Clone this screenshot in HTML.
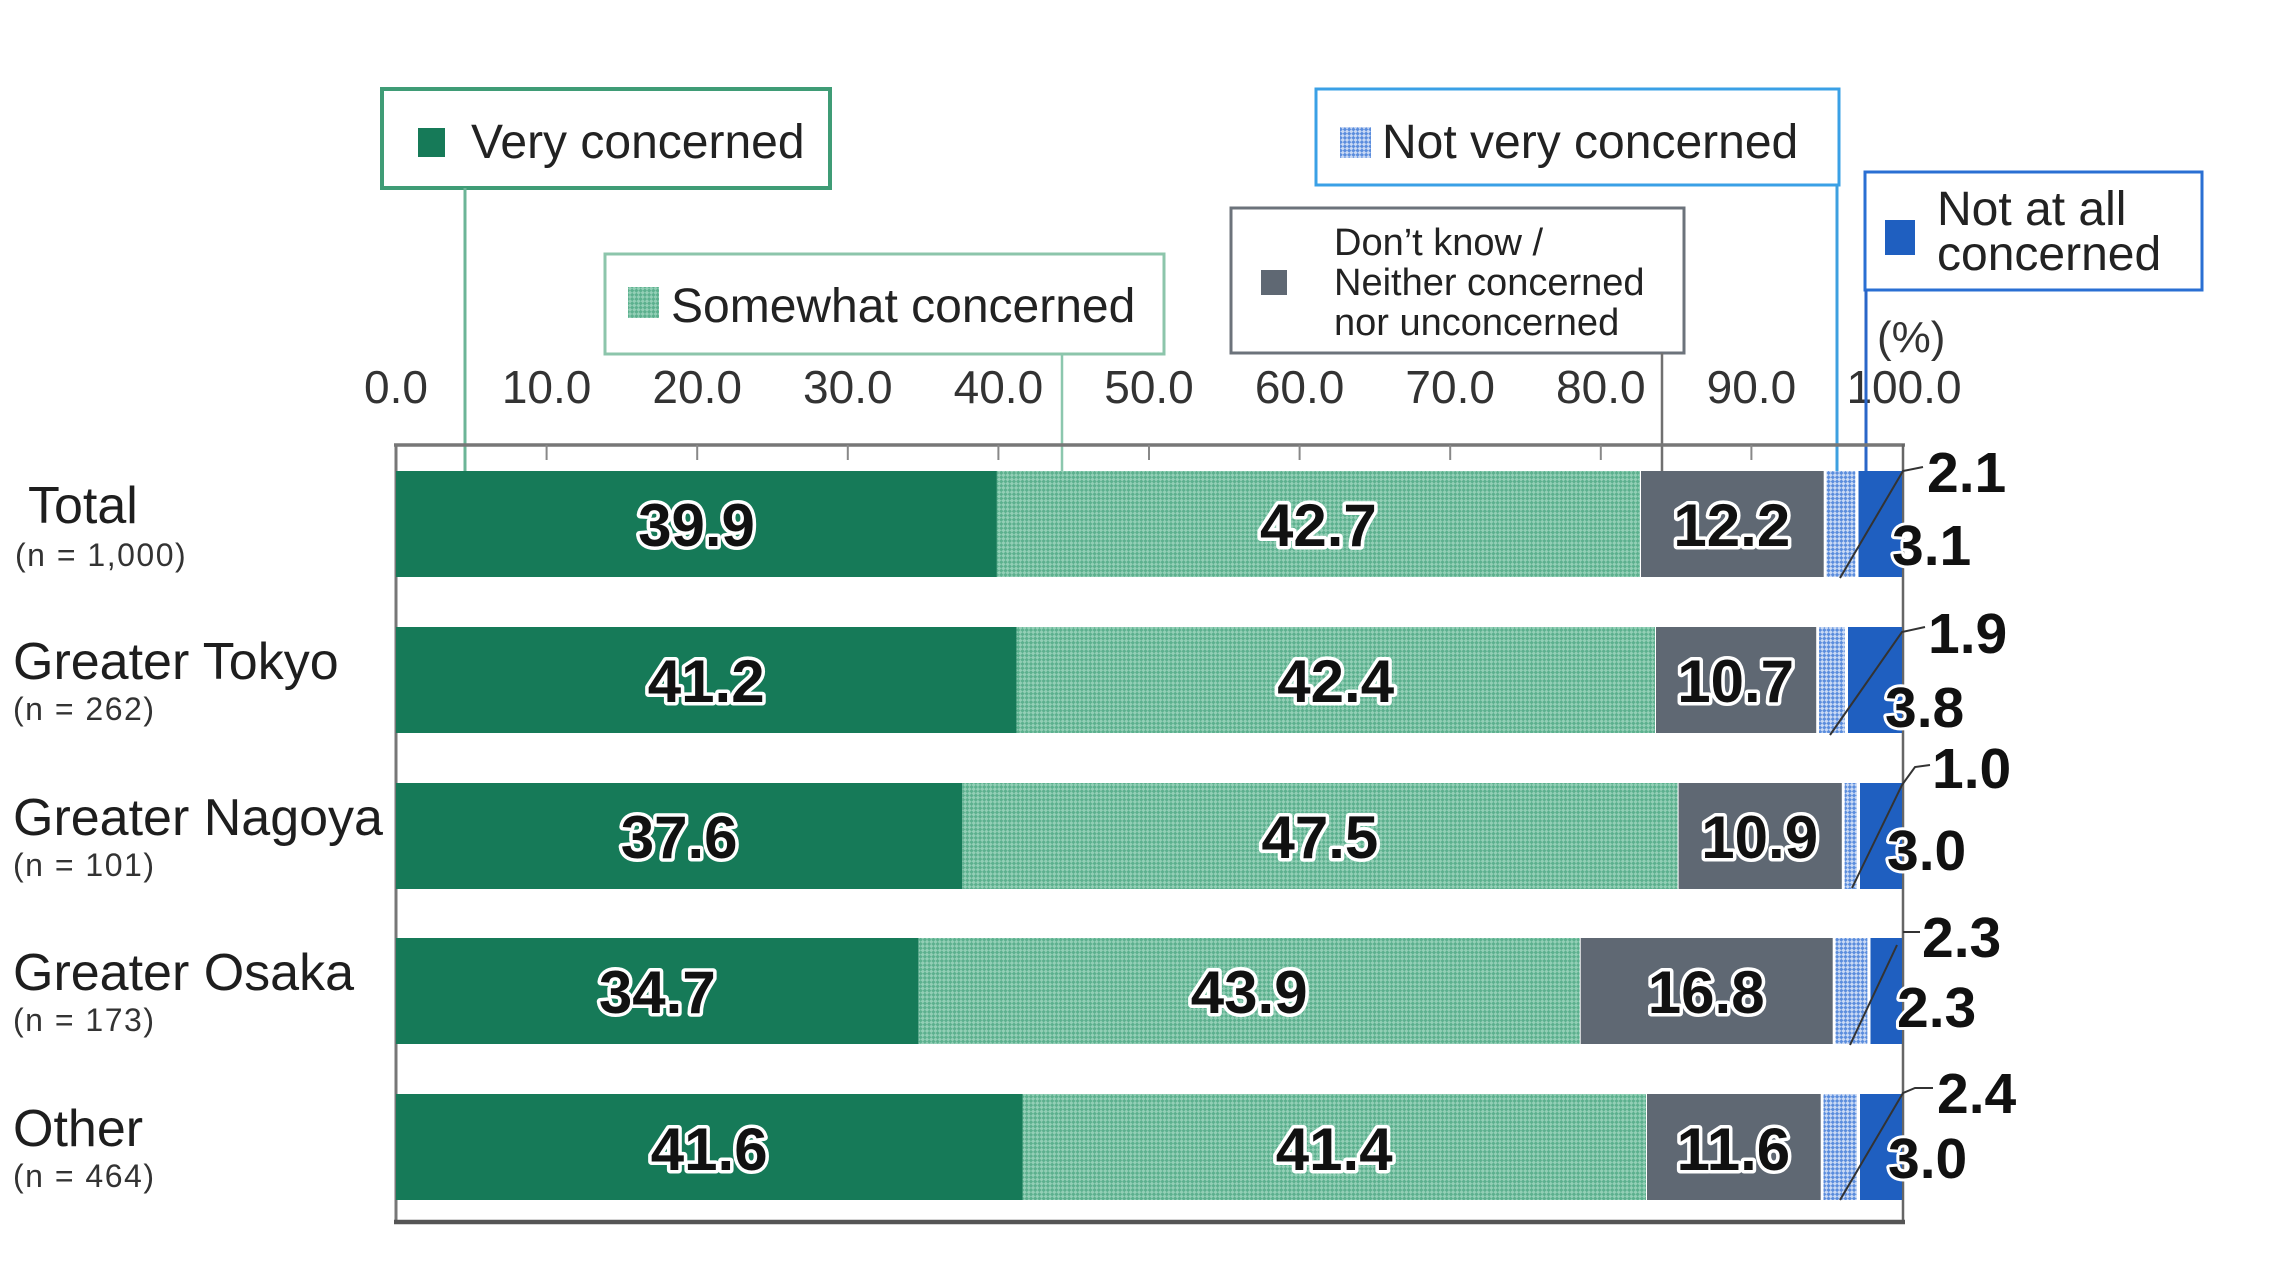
<!DOCTYPE html>
<html><head><meta charset="utf-8"><style>
html,body{margin:0;padding:0;background:#fff;}
svg{display:block;}
text{font-family:"Liberation Sans",sans-serif;}
.lg{font-size:48px;fill:#222;}
.tk{font-size:46px;fill:#333;text-anchor:middle;}
.cat{font-size:52px;fill:#1e1e1e;}
.sub{font-size:32px;fill:#333;letter-spacing:1.5px;}
.bl{font-size:60px;font-weight:bold;fill:#111;text-anchor:middle;stroke:#fff;stroke-width:7px;paint-order:stroke;stroke-linejoin:round;}
.rl{font-size:57px;font-weight:bold;fill:#111;stroke:#fff;stroke-width:6px;paint-order:stroke;stroke-linejoin:round;}
</style></head><body>
<svg width="2286" height="1266" viewBox="0 0 2286 1266" xmlns="http://www.w3.org/2000/svg">
<defs>
<pattern id="sw" width="6" height="6" patternUnits="userSpaceOnUse" patternTransform="rotate(45)">
<rect width="6" height="6" fill="#93cfb6"/><rect width="3" height="3" fill="#5cb08e"/><rect x="3" y="3" width="3" height="3" fill="#5cb08e"/>
</pattern>
<pattern id="nv" width="6" height="6" patternUnits="userSpaceOnUse" patternTransform="rotate(45)">
<rect width="6" height="6" fill="#c9d9f4"/><rect width="3" height="3" fill="#5b8ddd"/><rect x="3" y="3" width="3" height="3" fill="#5b8ddd"/>
</pattern>
</defs>

<!-- Legend boxes -->
<rect x="382" y="89" width="448" height="99" fill="#fff" stroke="#3f9c76" stroke-width="4"/>
<rect x="418" y="128" width="27" height="29" fill="#167a58"/>
<text class="lg" x="471" y="158">Very concerned</text>

<rect x="605" y="254" width="559" height="100" fill="#fff" stroke="#8cc5ab" stroke-width="3"/>
<rect x="628" y="287" width="31" height="31" fill="url(#sw)"/>
<text class="lg" x="671" y="322">Somewhat concerned</text>

<rect x="1316" y="89" width="523" height="96" fill="#fff" stroke="#3aa0e6" stroke-width="3"/>
<rect x="1340" y="127" width="31" height="31" fill="url(#nv)"/>
<text class="lg" x="1382" y="158">Not very concerned</text>

<rect x="1231" y="208" width="453" height="145" fill="#fff" stroke="#6c737b" stroke-width="3"/>
<rect x="1261" y="270" width="26" height="25" fill="#5f6873"/>
<text x="1334" y="255" style="font-size:38px;fill:#222">Don’t know /</text>
<text x="1334" y="295" style="font-size:38px;fill:#222">Neither concerned</text>
<text x="1334" y="335" style="font-size:38px;fill:#222">nor unconcerned</text>

<rect x="1865" y="172" width="337" height="118" fill="#fff" stroke="#2a6fd3" stroke-width="3"/>
<rect x="1885" y="220" width="30" height="35" fill="#1f5fc0"/>
<text class="lg" x="1937" y="225">Not at all</text>
<text class="lg" x="1937" y="270">concerned</text>

<text x="1877" y="352" style="font-size:44px;fill:#333">(%)</text>

<!-- Tick labels -->
<text class="tk" x="396" y="403">0.0</text>
<text class="tk" x="546.6" y="403">10.0</text>
<text class="tk" x="697.2" y="403">20.0</text>
<text class="tk" x="847.8" y="403">30.0</text>
<text class="tk" x="998.4" y="403">40.0</text>
<text class="tk" x="1149" y="403">50.0</text>
<text class="tk" x="1299.6" y="403">60.0</text>
<text class="tk" x="1450.2" y="403">70.0</text>
<text class="tk" x="1600.8" y="403">80.0</text>
<text class="tk" x="1751.4" y="403">90.0</text>
<text class="tk" x="1904" y="403">100.0</text>

<!-- Connector lines -->
<line x1="465" y1="188" x2="465" y2="471" stroke="#6cb597" stroke-width="3"/>
<line x1="1062" y1="354" x2="1062" y2="471" stroke="#8cc7ae" stroke-width="2.5"/>
<line x1="1662" y1="353" x2="1662" y2="471" stroke="#707070" stroke-width="2.5"/>
<line x1="1837" y1="185" x2="1837" y2="483" stroke="#3ea0e0" stroke-width="3"/>
<line x1="1866" y1="290" x2="1866" y2="471" stroke="#2a66c8" stroke-width="3"/>

<!-- Frame -->
<line x1="394" y1="445" x2="1905" y2="445" stroke="#777" stroke-width="3.5"/>
<line x1="396" y1="444" x2="396" y2="1224" stroke="#777" stroke-width="3"/>
<line x1="1903" y1="444" x2="1903" y2="1224" stroke="#666" stroke-width="2.5"/>
<line x1="394" y1="1222" x2="1905" y2="1222" stroke="#555" stroke-width="4.5"/>
<g stroke="#888" stroke-width="2">
<line x1="546.6" y1="445" x2="546.6" y2="460"/><line x1="697.2" y1="445" x2="697.2" y2="460"/>
<line x1="847.8" y1="445" x2="847.8" y2="460"/><line x1="998.4" y1="445" x2="998.4" y2="460"/>
<line x1="1149" y1="445" x2="1149" y2="460"/><line x1="1299.6" y1="445" x2="1299.6" y2="460"/>
<line x1="1450.2" y1="445" x2="1450.2" y2="460"/><line x1="1600.8" y1="445" x2="1600.8" y2="460"/>
<line x1="1751.4" y1="445" x2="1751.4" y2="460"/>
</g>

<!-- Bars -->
<!-- Total -->
<g>
<rect x="396" y="471" width="600.9" height="106" fill="#167a58"/>
<rect x="996.9" y="471" width="643.1" height="106" fill="url(#sw)"/>
<rect x="1641" y="471" width="182.7" height="106" fill="#5f6873"/>
<rect x="1826.5" y="471" width="28.8" height="106" fill="url(#nv)"/>
<rect x="1858.5" y="471" width="43.5" height="106" fill="#1f5fc0"/>
</g>
<!-- Tokyo -->
<g>
<rect x="396" y="627" width="620.5" height="106" fill="#167a58"/>
<rect x="1016.5" y="627" width="638.5" height="106" fill="url(#sw)"/>
<rect x="1656" y="627" width="160.2" height="106" fill="#5f6873"/>
<rect x="1819" y="627" width="25.8" height="106" fill="url(#nv)"/>
<rect x="1848" y="627" width="54" height="106" fill="#1f5fc0"/>
</g>
<!-- Nagoya -->
<g>
<rect x="396" y="783" width="566.3" height="106" fill="#167a58"/>
<rect x="962.3" y="783" width="715.3" height="106" fill="url(#sw)"/>
<rect x="1678.6" y="783" width="163.2" height="106" fill="#5f6873"/>
<rect x="1844.6" y="783" width="12.2" height="106" fill="url(#nv)"/>
<rect x="1860" y="783" width="42" height="106" fill="#1f5fc0"/>
</g>
<!-- Osaka -->
<g>
<rect x="396" y="938" width="522.6" height="106" fill="#167a58"/>
<rect x="918.6" y="938" width="661.1" height="106" fill="url(#sw)"/>
<rect x="1580.7" y="938" width="252" height="106" fill="#5f6873"/>
<rect x="1835.5" y="938" width="31.9" height="106" fill="url(#nv)"/>
<rect x="1870.5" y="938" width="31.5" height="106" fill="#1f5fc0"/>
</g>
<!-- Other -->
<g>
<rect x="396" y="1094" width="626.5" height="106" fill="#167a58"/>
<rect x="1022.5" y="1094" width="623.5" height="106" fill="url(#sw)"/>
<rect x="1647" y="1094" width="173.7" height="106" fill="#5f6873"/>
<rect x="1823.5" y="1094" width="33.3" height="106" fill="url(#nv)"/>
<rect x="1860" y="1094" width="42" height="106" fill="#1f5fc0"/>
</g>

<!-- Leader lines -->
<g fill="none" stroke="#333" stroke-width="2">
<polyline points="1840,578 1903,471 1923,467"/>
<polyline points="1830,735 1902,632 1925,627"/>
<polyline points="1852,888 1902,785 1915,767 1930,765"/>
<polyline points="1850,1045 1897,945"/>
<line x1="1903" y1="932" x2="1920" y2="932"/>
<polyline points="1840,1200 1903,1093 1915,1088 1933,1088"/>
</g>

<!-- Bar value labels -->
<text class="bl" x="696.5" y="546">39.9</text>
<text class="bl" x="1318.4" y="546">42.7</text>
<text class="bl" x="1731.8" y="546">12.2</text>

<text class="bl" x="706.2" y="702">41.2</text>
<text class="bl" x="1335.7" y="702">42.4</text>
<text class="bl" x="1735.6" y="702">10.7</text>

<text class="bl" x="679.1" y="858">37.6</text>
<text class="bl" x="1319.9" y="858">47.5</text>
<text class="bl" x="1759.7" y="858">10.9</text>

<text class="bl" x="657.3" y="1013">34.7</text>
<text class="bl" x="1249.2" y="1013">43.9</text>
<text class="bl" x="1706.2" y="1013">16.8</text>

<text class="bl" x="709.2" y="1170">41.6</text>
<text class="bl" x="1334.2" y="1170">41.4</text>
<text class="bl" x="1733.4" y="1170">11.6</text>

<!-- Right labels -->
<text class="rl" x="1927" y="492">2.1</text>
<text class="rl" x="1892" y="565">3.1</text>
<text class="rl" x="1928" y="653">1.9</text>
<text class="rl" x="1885" y="727">3.8</text>
<text class="rl" x="1932" y="788">1.0</text>
<text class="rl" x="1887" y="870">3.0</text>
<text class="rl" x="1922" y="957">2.3</text>
<text class="rl" x="1897" y="1027">2.3</text>
<text class="rl" x="1937" y="1113">2.4</text>
<text class="rl" x="1888" y="1178">3.0</text>

<!-- Category labels -->
<text class="cat" x="28" y="523">Total</text>
<text class="sub" x="15" y="566">(n = 1,000)</text>
<text class="cat" x="13" y="679">Greater Tokyo</text>
<text class="sub" x="13" y="720">(n = 262)</text>
<text class="cat" x="13" y="835">Greater Nagoya</text>
<text class="sub" x="13" y="876">(n = 101)</text>
<text class="cat" x="13" y="990">Greater Osaka</text>
<text class="sub" x="13" y="1031">(n = 173)</text>
<text class="cat" x="13" y="1146">Other</text>
<text class="sub" x="13" y="1187">(n = 464)</text>
</svg>
</body></html>
